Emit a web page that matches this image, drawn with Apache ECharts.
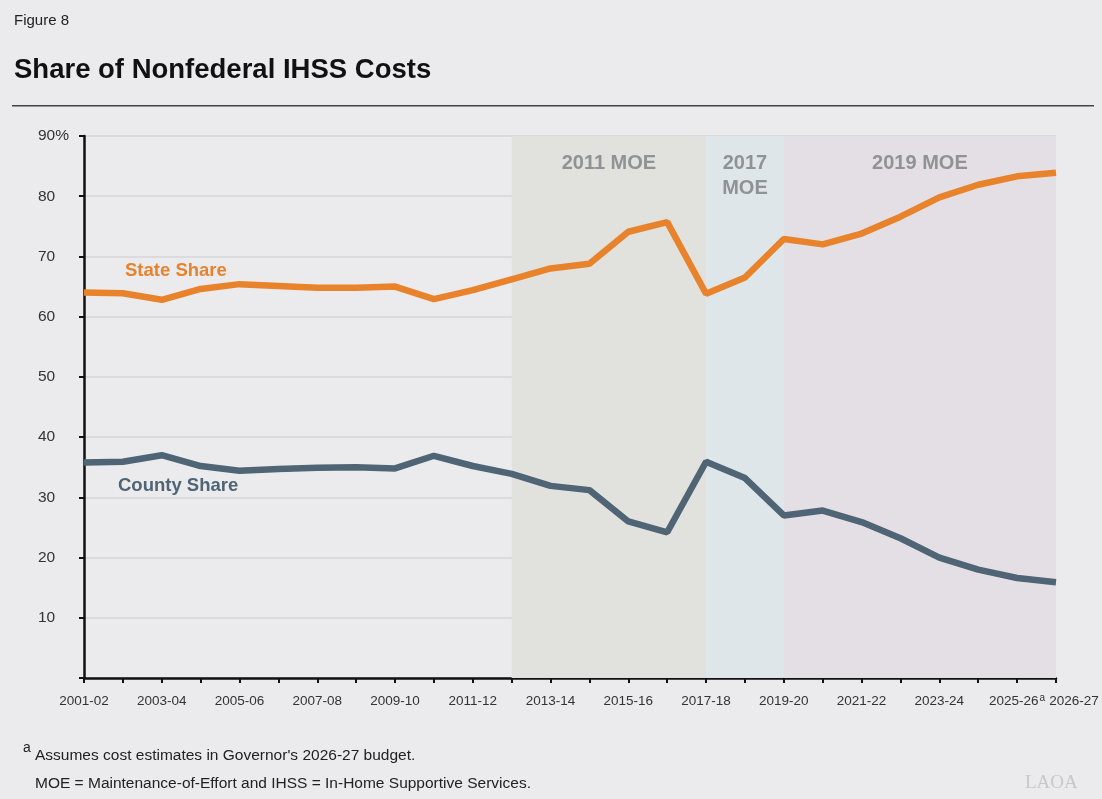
<!DOCTYPE html>
<html><head><meta charset="utf-8">
<script src="https://cdn.jsdelivr.net/npm/echarts@6/dist/echarts.min.js"></script>
<style>html,body{margin:0;padding:0;background:#ebebed;}#c{width:1102px;height:799px;}</style>
</head><body><div id="c"></div>
<script>
const categories = ['2001-02','2002-03','2003-04','2004-05','2005-06','2006-07','2007-08','2008-09','2009-10','2010-11','2011-12','2012-13','2013-14','2014-15','2015-16','2016-17','2017-18','2018-19','2019-20','2020-21','2021-22','2022-23','2023-24','2024-25','2025-26','2026-27'];
const stateShare = [64.0,63.9,62.8,64.6,65.4,65.1,64.8,64.8,65.0,62.9,64.4,66.2,68.0,68.8,74.1,75.7,63.8,66.5,72.9,72.0,73.8,76.6,79.8,81.9,83.3,83.9];
const countyShare = [35.8,35.9,37.0,35.2,34.4,34.7,34.9,35.0,34.8,36.9,35.2,33.9,31.9,31.2,26.0,24.2,35.9,33.2,27.0,27.8,25.9,23.2,20.0,18.0,16.6,15.9];
const moePeriods = [
  {name:'2011 MOE', from:'2012-13', to:'2017-18'},
  {name:'2017\nMOE', from:'2017-18', to:'2019-20'},
  {name:'2019 MOE', from:'2019-20', to:'2026-27'}
];
const footnotedCategory = '2025-26';

const bandColors = ['#e1e2de','#dfe6ea','#e4dfe4'];
const FONT = '"Liberation Sans", Arial, Helvetica, sans-serif';
const chart = echarts.init(document.getElementById('c'));
chart.setOption({
  backgroundColor:'#ebebed',
  textStyle:{fontFamily:FONT},
  grid:{left:84,right:46,top:136,bottom:121},
  xAxis:{type:'category',data:categories,boundaryGap:false,
    axisLine:{lineStyle:{color:'#111',width:2.5}},
    axisTick:{show:true,length:5,interval:0,lineStyle:{color:'#111',width:2}},
    axisLabel:{color:'#333',fontSize:13.5,margin:16,fontFamily:FONT,
      interval:0,
      formatter:function(v,i){
        if(i===categories.length-1) return '{last|'+v+'}';
        if(i%2!==0) return '';
        if(v===footnotedCategory) return '{n|'+v+'}{sup|a}';
        return '{n|'+v+'}';
      },
      rich:{
        n:{fontSize:13.5,lineHeight:16,verticalAlign:'top',color:'#333',fontFamily:FONT},
        sup:{fontSize:10,lineHeight:16,verticalAlign:'top',color:'#333',fontFamily:FONT,padding:[-1,0,0,1]},
        last:{fontSize:13.5,lineHeight:16,verticalAlign:'top',color:'#333',fontFamily:FONT,padding:[0,0,0,36]}
      }
    },
    splitLine:{show:false}},
  yAxis:{type:'value',min:0,max:90,interval:10,
    axisLine:{show:true,lineStyle:{color:'#111',width:2.5}},
    axisTick:{show:true,length:5,lineStyle:{color:'#111',width:2}},
    axisLabel:{color:'#333',fontSize:15.5,margin:46,align:'left',fontFamily:FONT,
      formatter:function(v){ if(v===0) return ''; return v===90? v+'%': String(v);} },
    splitLine:{show:true,lineStyle:{color:'#d6d6d8',width:1.5}}},
  series:[
    {type:'line',name:'State Share',data:stateShare,symbol:'none',z:5,
      lineStyle:{color:'#e8832b',width:6.5},
      markArea:{silent:true,
        data:moePeriods.map((p,i)=>[{xAxis:p.from,itemStyle:{color:bandColors[i]},
          label:{show:true,position:'insideTop',distance:15,formatter:p.name,color:'#909294',fontSize:20,fontWeight:'bold',lineHeight:25,fontFamily:FONT}},{xAxis:p.to,yAxis:90}])
      }},
    {type:'line',name:'County Share',data:countyShare,symbol:'none',z:5,
      lineStyle:{color:'#4f6474',width:6.5}}
  ],
  graphic:[
    {type:'text',left:14,top:13,style:{text:'Figure 8',fontSize:15,fill:'#222',fontFamily:FONT}},
    {type:'text',left:14,top:56,style:{text:'Share of Nonfederal IHSS Costs',fontSize:27.5,fontWeight:'bold',fill:'#111',fontFamily:FONT}},
    {type:'rect',shape:{x:12,y:105,width:1082,height:1.5},style:{fill:'#444'}},
    {type:'text',left:125,top:261,style:{text:'State Share',fontSize:18.5,fontWeight:'bold',fill:'#e8832b',fontFamily:FONT}},
    {type:'text',left:118,top:476,style:{text:'County Share',fontSize:18.5,fontWeight:'bold',fill:'#4f6474',fontFamily:FONT}},
    {type:'text',left:23,top:741,style:{text:'a',fontSize:14,fill:'#222',fontFamily:FONT}},
    {type:'text',left:35,top:748,style:{text:"Assumes cost estimates in Governor's 2026-27 budget.",fontSize:15.5,fill:'#222',fontFamily:FONT}},
    {type:'text',left:35,top:776,style:{text:'MOE = Maintenance-of-Effort and IHSS = In-Home Supportive Services.',fontSize:15.5,fill:'#222',fontFamily:FONT}},
    {type:'text',left:1025,top:774,style:{text:'LAOA',fontSize:19,fill:'#c8c8ca',fontFamily:'"Liberation Serif", serif'}}
  ]
});
</script></body></html>
